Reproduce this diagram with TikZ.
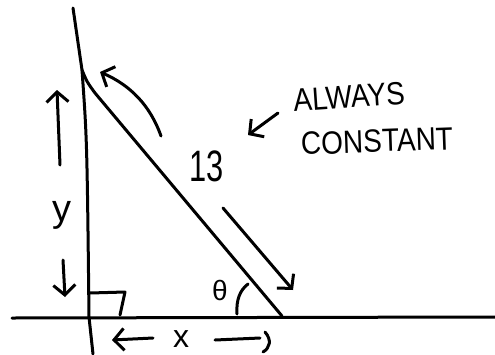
\documentclass[tikz,border=0pt]{standalone}
\usepackage{fontspec}
\setmainfont{Liberation Sans}
\usetikzlibrary{arrows.meta}
\begin{document}
\begin{tikzpicture}[x=1pt,y=-1pt,line width=3pt,line cap=round,line join=round,
  barb/.style={-{Straight Barb[length=10pt,width=22pt]}},
  lbl/.style={inner sep=0pt}]
\useasboundingbox (0,0) rectangle (495,354);
% key points
\coordinate (wtop) at (73,8);
\coordinate (ltop) at (82,70);
\coordinate (wfoot) at (89,317);
\coordinate (wbot) at (93,354);
\coordinate (gl) at (12,318);
\coordinate (gr) at (495,317);
\coordinate (lfoot) at (282,316);
% ground and wall
\draw (gl) -- (gr);
\draw (wtop) -- (ltop) .. controls (87,140) .. (wfoot) -- (wbot);
% ladder
\draw (ltop) .. controls (87,82) .. (95,93) -- (lfoot);
% right angle
\coordinate (ra1) at (90,293);
\coordinate (ra2) at (125,292);
\coordinate (ra3) at (120,315);
\draw (ra1) -- (ra2) -- (ra3);
% theta arc
\coordinate (th1) at (237,314);
\coordinate (th2) at (248,284);
\draw (th1) .. controls (236,300) and (240,290) .. (th2);
% arrows
\coordinate (ca1) at (161,136);
\coordinate (ca2) at (100,72);
\draw[barb] (ca1) .. controls (150,105) and (130,85) .. (ca2);
\coordinate (ua1) at (60,165);
\coordinate (ua2) at (57,90);
\draw[barb] (ua1) -- (ua2);
\coordinate (da1) at (63,260);
\coordinate (da2) at (65,297);
\draw[barb] (da1) -- (da2);
\coordinate (dr1) at (223,208);
\coordinate (dr2) at (293,290);
\draw[barb] (dr1) -- (dr2);
\coordinate (sa1) at (278,113);
\coordinate (sa2) at (248,135);
\draw[barb] (sa1) -- (sa2);
\coordinate (la1) at (153,338);
\coordinate (la2) at (112,340);
\draw[barb] (la1) -- (la2);
\coordinate (rx1) at (215,340);
\coordinate (rx2) at (260,338);
\draw (rx1) -- (rx2);
\coordinate (hk1) at (265,332);
\coordinate (hk2) at (263,352);
\draw (hk1) .. controls (272,340) and (270,348) .. (hk2);
% labels
\node[lbl,font=\fontsize{28}{30}\selectfont,rotate=4,yscale=1.15] (always) at (349,97) {ALWAYS};
\node[lbl,font=\fontsize{28}{30}\selectfont,rotate=2,yscale=1.15] (constant) at (377,141) {CONSTANT};
\node[lbl,font=\fontsize{44}{46}\selectfont,xscale=0.7] (len) at (207,166) {13};
\node[lbl,font=\fontsize{38}{40}\selectfont] (ylab) at (62,215) {y};
\node[lbl,font=\fontsize{32}{34}\selectfont] (xlab) at (181,339) {x};
\node[lbl,font=\fontsize{28}{30}\selectfont] (theta) at (220,290) {θ};
\end{tikzpicture}
\end{document}
